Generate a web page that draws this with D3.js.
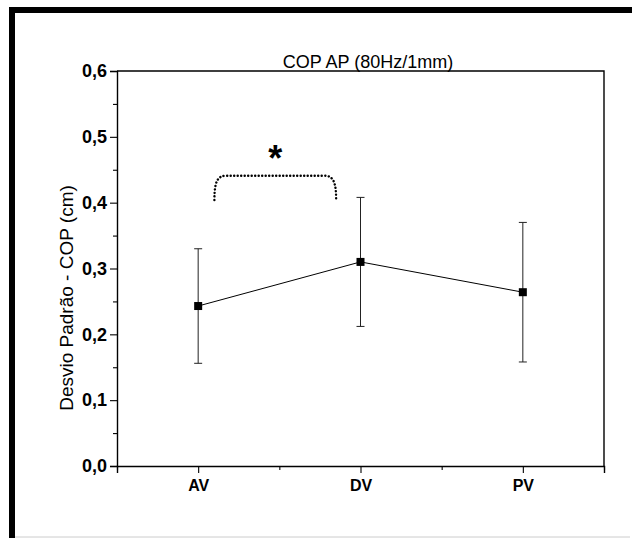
<!DOCTYPE html>
<html>
<head>
  <meta charset=utf-8>
  <title>COP AP (80Hz/1mm)</title>
  <script src="https://d3js.org/d3.v7.min.js"></script>
  <style>
    body { margin: 0; background: #fff; }
  </style>
</head>
<body>
  <div id='chart'></div>
<script>

// data
var categories = ['AV', 'DV', 'PV'];
var means = [0.243, 0.310, 0.264];
var sds = [0.087, 0.098, 0.106];
var yTicks = [0, 0.1, 0.2, 0.3, 0.4, 0.5, 0.6];
var yMinor = [0.05, 0.15, 0.25, 0.35, 0.45, 0.55];
var xMinor = [0.5, 1.5, 2.5, 3.5];
// significance bracket between AV and DV (data units)
var bracketX = [1.1, 1.85];
var bracketY = [0.404, 0.441];

var FONT = "'Liberation Sans', Arial, sans-serif";
var width = 632, height = 538;
var m = {left: 117, right: 28, top: 71, bottom: 72};

var svg = d3.select('#chart').append('svg')
  .attr('width', width)
  .attr('height', height)
  .style('display', 'block')
  .attr('font-family', FONT);

// outer frame
svg.append('rect').attr('x', 9).attr('y', 7).attr('width', width - 9).attr('height', 6).attr('fill', '#000');
svg.append('rect').attr('x', 9).attr('y', 7).attr('width', 6).attr('height', height - 7).attr('fill', '#000');
svg.append('line').attr('x1', 15).attr('x2', 630).attr('y1', 537).attr('y2', 537)
  .attr('stroke', '#ccc').attr('stroke-width', 1);

var x = d3.scaleLinear().domain([0.5, 3.5]).range([m.left, width - m.right]);
var y = d3.scaleLinear().domain([0, 0.6]).range([height - m.bottom, m.top]);

var fmt = function (d) { return d3.format('.1f')(d).replace('.', ','); };

// box top and right
svg.append('path')
  .attr('d', 'M' + x(0.5) + ',' + y(0.6) + 'H' + x(3.5) + 'V' + y(0))
  .attr('fill', 'none').attr('stroke', '#000').attr('stroke-width', 1.4);

// y axis
var gy = svg.append('g').attr('transform', 'translate(' + m.left + ',0)')
  .call(d3.axisLeft(y).tickValues(yTicks).tickFormat(fmt).tickSize(7).tickPadding(3));
svg.append('g').attr('transform', 'translate(' + m.left + ',0)')
  .call(d3.axisLeft(y).tickValues(yMinor).tickFormat('').tickSize(4))
  .select('.domain').remove();

// x axis
var gx = svg.append('g').attr('transform', 'translate(0,' + y(0) + ')')
  .call(d3.axisBottom(x).tickValues([1, 2, 3]).tickFormat(function (d) { return categories[d - 1]; })
    .tickSize(7).tickPadding(7));
svg.append('g').attr('transform', 'translate(0,' + y(0) + ')')
  .call(d3.axisBottom(x).tickValues(xMinor).tickFormat('').tickSize(4))
  .select('.domain').remove();

svg.selectAll('.domain').attr('stroke-width', 1.4);
svg.selectAll('.tick line').attr('stroke-width', 1.1);
gy.attr('font-family', FONT).attr('font-size', 18).attr('font-weight', 'bold');
gx.attr('font-family', FONT).attr('font-size', 16).attr('font-weight', 'bold');
gy.selectAll('text').attr('fill', '#000');
gx.selectAll('text').attr('fill', '#000');

// axis title + chart title
svg.append('text')
  .attr('transform', 'translate(73,298) rotate(-90)')
  .attr('text-anchor', 'middle')
  .attr('font-size', 19)
  .text('Desvio Padrão - COP (cm)');

svg.append('text')
  .attr('x', 368).attr('y', 68)
  .attr('text-anchor', 'middle')
  .attr('font-size', 18)
  .text('COP AP (80Hz/1mm)');

// error bars
var bars = svg.append('g').selectAll('g').data(means).enter().append('g');
bars.append('line')
  .attr('x1', function (d, i) { return x(i + 1); })
  .attr('x2', function (d, i) { return x(i + 1); })
  .attr('y1', function (d, i) { return y(d - sds[i]); })
  .attr('y2', function (d, i) { return y(d + sds[i]); })
  .attr('stroke', '#222').attr('stroke-width', 1);
[-1, 1].forEach(function (s) {
  bars.append('line')
    .attr('x1', function (d, i) { return x(i + 1) - 4; })
    .attr('x2', function (d, i) { return x(i + 1) + 4; })
    .attr('y1', function (d, i) { return y(d + s * sds[i]); })
    .attr('y2', function (d, i) { return y(d + s * sds[i]); })
    .attr('stroke', '#222').attr('stroke-width', 1);
});

// mean line
var line = d3.line()
  .x(function (d, i) { return x(i + 1); })
  .y(function (d) { return y(d); });
svg.append('path').datum(means)
  .attr('d', line)
  .attr('fill', 'none').attr('stroke', '#000').attr('stroke-width', 1);

svg.append('g').selectAll('rect').data(means).enter().append('rect')
  .attr('x', function (d, i) { return x(i + 1) - 4; })
  .attr('y', function (d) { return y(d) - 4; })
  .attr('width', 8).attr('height', 8)
  .attr('fill', '#000');

// dotted bracket + asterisk
var bx0 = x(bracketX[0]), bx1 = x(bracketX[1]);
var by0 = y(bracketY[0]), by1 = y(bracketY[1]);
svg.append('path')
  .attr('d', 'M' + bx0 + ',' + by0 +
    'C' + bx0 + ',' + (by1 + 6) + ' ' + (bx0 + 3) + ',' + by1 + ' ' + (bx0 + 12) + ',' + by1 +
    'H' + (bx1 - 12) +
    'C' + (bx1 - 3) + ',' + by1 + ' ' + bx1 + ',' + (by1 + 6) + ' ' + bx1 + ',' + by0)
  .attr('fill', 'none').attr('stroke', '#000').attr('stroke-width', 2.4)
  .attr('stroke-linecap', 'round').attr('stroke-dasharray', '0.1 3.4');

svg.append('text')
  .attr('x', (bx0 + bx1) / 2).attr('y', y(0.448))
  .attr('text-anchor', 'middle')
  .attr('font-size', 36).attr('font-weight', 'bold')
  .text('*');

</script>
</body>
</html>
